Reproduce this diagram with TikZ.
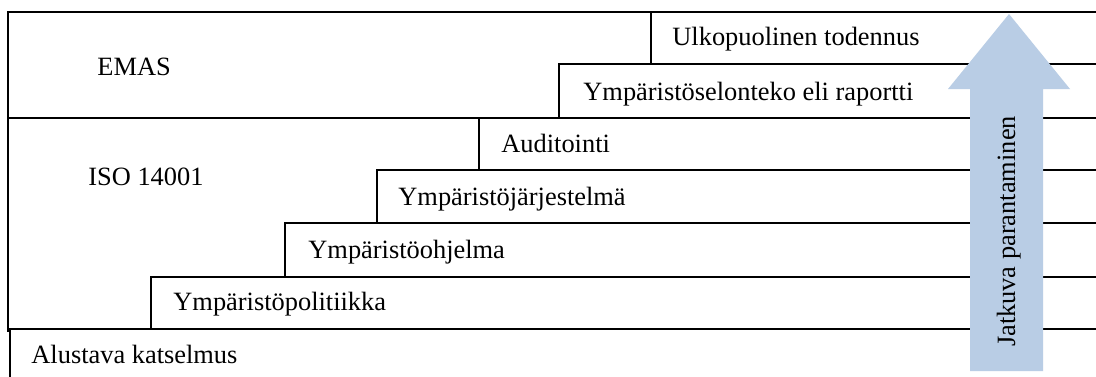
\documentclass[tikz,border=0pt]{standalone}
\usepackage{fontspec}
\setmainfont{Liberation Serif}
\definecolor{arrowblue}{HTML}{B9CDE5}
\begin{document}
\begin{tikzpicture}[x=0.5pt,y=-0.5pt,
  stepbox/.style={draw=black,line width=0.65pt,fill=white},
  lbl/.style={anchor=base west,inner sep=0pt,font=\fontsize{13.2}{15}\selectfont}]
\useasboundingbox (0,0) rectangle (1096,376);
\clip (0,0) rectangle (1096,376);
% outer blocks
\draw[stepbox] (8,12) rectangle (1110,118);
\draw[stepbox] (8,118) rectangle (1110,331);
% steps
\draw[stepbox] (651,12) rectangle (1110,64);
\draw[stepbox] (559,64) rectangle (1110,118);
\draw[stepbox] (479,118) rectangle (1110,170);
\draw[stepbox] (377,170) rectangle (1110,223);
\draw[stepbox] (285,223) rectangle (1110,277);
\draw[stepbox] (151,277) rectangle (1110,329);
\draw[stepbox] (10,329) rectangle (1110,390);
% labels
\node[lbl] (emas) at (97,75) {EMAS};
\node[lbl] (iso) at (88,185) {ISO 14001};
\node[lbl] (ulko) at (672,45) {Ulkopuolinen todennus};
\node[lbl] (selon) at (583,100) {Ympäristöselonteko eli raportti};
\node[lbl] (audit) at (501,152) {Auditointi};
\node[lbl] (jarj) at (398,205) {Ympäristöjärjestelmä};
\node[lbl] (ohj) at (308,258) {Ympäristöohjelma};
\node[lbl] (pol) at (173,310) {Ympäristöpolitiikka};
\node[lbl] (alus) at (31,363) {Alustava katselmus};
% arrow
\fill[arrowblue] (970,371) -- (970,89) -- (948,89) -- (1009,14) -- (1070,89) -- (1043,89) -- (1043,371) -- cycle;
\node[inner sep=0pt,font=\fontsize{13.2}{15}\selectfont,rotate=90,anchor=base] (jatk) at (1015,231.5) {Jatkuva parantaminen};
\end{tikzpicture}
\end{document}
